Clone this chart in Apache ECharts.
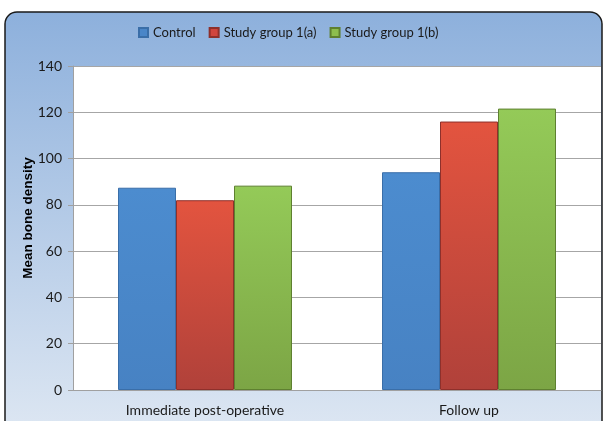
<!DOCTYPE html>
<html><head><meta charset="utf-8">
<script src="https://cdn.jsdelivr.net/npm/echarts@6/dist/echarts.min.js"></script>
<style>html,body{margin:0;padding:0;background:#fff}#c{width:604px;height:421px}</style>
</head><body><div id="c"></div>
<script>
var categories = ['Immediate post-operative', 'Follow up'];
var seriesNames = ['Control', 'Study group 1(a)', 'Study group 1(b)'];
var controlValues = [87.4, 94.1];
var group1aValues = [82.0, 116.0];
var group1bValues = [88.3, 121.6];
var yTicks = [0, 20, 40, 60, 80, 100, 120, 140];

var FONT = "Lato,'Open Sans',sans-serif";
function grad(top, bottom) {
  return new echarts.graphic.LinearGradient(0, 0, 0, 1, [
    {offset: 0, color: top}, {offset: 1, color: bottom}
  ]);
}
var styles = [
  {color: grad('#4C8CCF', '#4782C3'), borderColor: '#3A6EA8', icon: '#4A86C8'},
  {color: grad('#E3543F', '#B0413A'), borderColor: '#8E302B', icon: '#D0453D'},
  {color: grad('#94CA58', '#7CA545'), borderColor: '#5E8030', icon: '#8DBE4E'}
];
var dataSets = [controlValues, group1aValues, group1bValues];

var chart = echarts.init(document.getElementById('c'), null, {renderer: 'canvas'});
chart.setOption({
  animation: false,
  graphic: [{
    type: 'rect', z: -10, silent: true,
    shape: {x: 5, y: 12, width: 597, height: 430, r: 12},
    style: {
      fill: new echarts.graphic.LinearGradient(0, 0, 0, 1, [
        {offset: 0, color: '#8DB0DC'}, {offset: 1, color: '#DFE8F3'}
      ]),
      stroke: '#1a1a1a', lineWidth: 1.5
    }
  }],
  legend: {
    top: 21, left: 133, itemWidth: 9, itemHeight: 9, itemGap: 13,
    icon: 'rect',
    textStyle: {fontFamily: FONT, fontSize: 13, color: '#1a1a1a'},
    data: seriesNames.map(function (n, i) { return {name: n, itemStyle: {color: styles[i].icon}}; })
  },
  grid: {left: 73, right: 3, top: 66, bottom: 31, show: true, backgroundColor: '#ffffff', borderWidth: 0},
  xAxis: {
    type: 'category', data: categories,
    axisLine: {lineStyle: {color: '#a0a0a0'}},
    axisTick: {show: false},
    axisLabel: {fontFamily: FONT, fontSize: 14, color: '#1a1a1a', margin: 13}
  },
  yAxis: {
    type: 'value', min: yTicks[0], max: yTicks[yTicks.length - 1], interval: 20,
    name: 'Mean bone density', nameLocation: 'middle', nameGap: 38, nameMoveOverlap: false,
    nameTextStyle: {fontFamily: "'Liberation Sans','Open Sans',sans-serif", fontSize: 13.5, fontWeight: 'bold', color: '#000', padding: [0, 0, 0, 20]},
    axisLine: {show: true, lineStyle: {color: '#a0a0a0'}},
    axisTick: {show: true, length: 5, lineStyle: {color: '#a0a0a0'}},
    axisLabel: {fontFamily: FONT, fontSize: 14, color: '#1a1a1a', margin: 11},
    splitLine: {lineStyle: {color: '#a6a6a6', width: 1}}
  },
  series: dataSets.map(function (d, i) {
    return {
      type: 'bar', name: seriesNames[i], data: d,
      barWidth: 58, barGap: '0%',
      itemStyle: {color: styles[i].color, borderColor: styles[i].borderColor, borderWidth: 1}
    };
  })
});
</script></body></html>
